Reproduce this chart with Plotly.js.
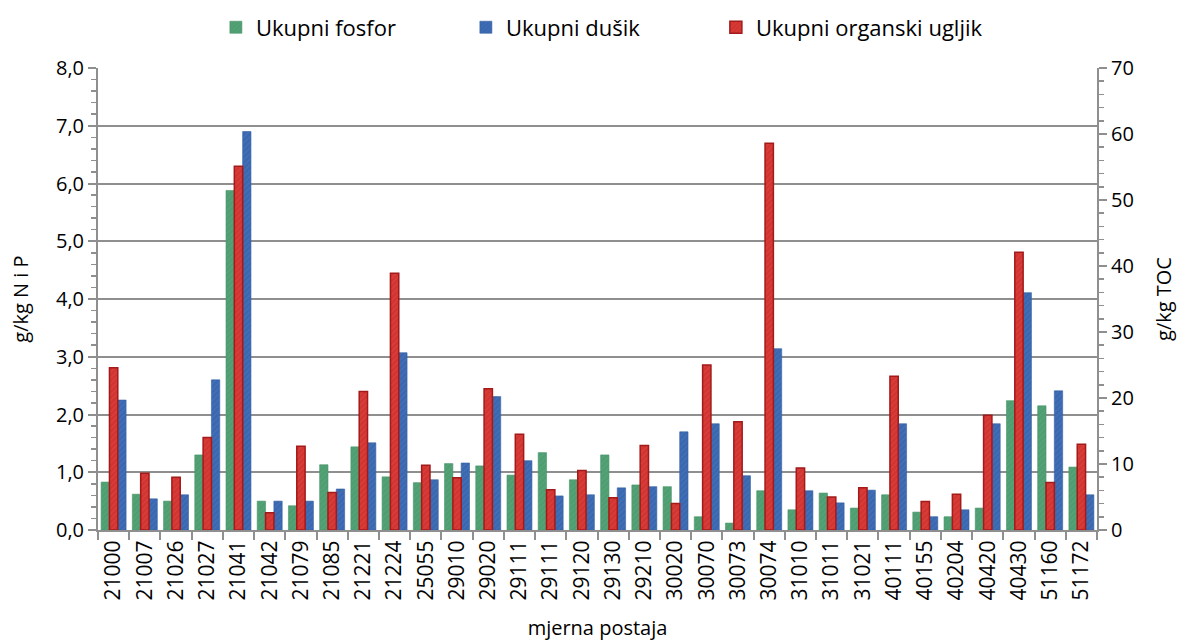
<!DOCTYPE html>
<html>
<head>
<meta charset="utf-8">
<script src="https://cdn.plot.ly/plotly-3.0.1.min.js"></script>
<style>
html,body{margin:0;padding:0;background:#fff;}
#chart{width:1187px;height:644px;}
</style>
</head>
<body>
<div id="chart"></div>
<script>
const categories = ["21000","21007","21026","21027","21041","21042","21079","21085","21221","21224","25055","29010","29020","29111","29111","29120","29130","29210","30020","30070","30073","30074","31010","31011","31021","40111","40155","40204","40420","40430","51160","51172"];
const fosfor = [0.83,0.62,0.50,1.30,5.88,0.50,0.42,1.13,1.44,0.92,0.82,1.15,1.11,0.95,1.34,0.87,1.30,0.78,0.75,0.23,0.12,0.68,0.35,0.64,0.38,0.61,0.31,0.23,0.38,2.24,2.15,1.09];
const dusik = [2.25,0.54,0.61,2.60,6.90,0.50,0.50,0.71,1.51,3.07,0.87,1.16,2.31,1.20,0.59,0.61,0.73,0.75,1.70,1.84,0.94,3.14,0.68,0.47,0.69,1.84,0.23,0.35,1.84,4.11,2.41,0.61];
const toc = [24.6,8.6,8.0,14.0,55.1,2.6,12.7,5.7,21.0,38.9,9.8,7.9,21.4,14.5,6.1,9.0,4.9,12.8,4.0,25.0,16.4,58.6,9.4,5.0,6.4,23.3,4.3,5.4,17.4,42.1,7.2,13.0];
const seriesNames = ["Ukupni fosfor","Ukupni dušik","Ukupni organski ugljik"];

const xIdx = categories.map((c,i)=>i);
const bw = 0.267;
const FONT = "Open Sans, Liberation Sans, sans-serif";
const gridC = "#8f8f8f";
const FS = 20;

const traces = [
  {type:'bar', name:seriesNames[0], x:xIdx, y:fosfor, width:bw, offset:-0.4, legendwidth:205,
   marker:{color:'#4e9e72', line:{color:'#479468', width:0.6},
     pattern:{shape:'/', bgcolor:'#4e9e72', fgcolor:'#6cb48b', fgopacity:0.35, size:4, solidity:0.25}}, yaxis:'y'},
  {type:'bar', name:seriesNames[1], x:xIdx, y:dusik, width:bw, offset:0.133, legendwidth:205,
   marker:{color:'#3a68b0', line:{color:'#335fa3', width:0.6},
     pattern:{shape:'/', bgcolor:'#3a68b0', fgcolor:'#5a86c8', fgopacity:0.35, size:4, solidity:0.25}}, yaxis:'y'},
  {type:'bar', name:seriesNames[2], x:xIdx, y:toc, width:bw, offset:-0.133, legendwidth:300,
   marker:{color:'#d23431', line:{color:'#a31a1a', width:1.5},
     pattern:{shape:'/', bgcolor:'#d23431', fgcolor:'#ea5d57', fgopacity:0.35, size:4, solidity:0.25}}, yaxis:'y2'}
];

const layout = {
  width:1187, height:644,
  margin:{l:98, r:90, t:68, b:114},
  paper_bgcolor:'#fff', plot_bgcolor:'#fff',
  font:{family:FONT, size:FS, color:'#000'},
  separators:',.',
  barmode:'overlay',
  showlegend:true,
  legend:{orientation:'h', x:0.118, xanchor:'left', y:0.99, yanchor:'top', yref:'container',
    font:{family:FONT, size:22}, traceorder:'normal', itemwidth:30},
  xaxis:{
    range:[-0.5, categories.length-0.5],
    tickmode:'array', tickvals:xIdx, ticktext:categories, tickangle:-90,
    ticks:'', showgrid:false, zeroline:false,
    showline:true, linecolor:gridC, linewidth:2,
    tickfont:{family:FONT, size:21},
    minor:{tickmode:'linear', tick0:-0.5, dtick:1, ticks:'outside', ticklen:8, tickcolor:gridC, tickwidth:2, showgrid:false},
    title:{text:'mjerna postaja', font:{family:FONT, size:FS}, standoff:22}
  },
  yaxis:{
    range:[0,8], dtick:1, tickformat:'.1f',
    showgrid:true, gridcolor:gridC, gridwidth:2,
    zeroline:false, showline:true, linecolor:gridC, linewidth:2,
    ticks:'outside', ticklen:8, tickcolor:gridC, tickwidth:2,
    minor:{dtick:0.2, ticks:'outside', ticklen:5, tickcolor:gridC, tickwidth:1.5, showgrid:false},
    tickfont:{family:FONT, size:FS},
    title:{text:'g/kg N i P', font:{family:FONT, size:FS}, standoff:22}
  },
  yaxis2:{
    range:[0,70], dtick:10, overlaying:'y', side:'right',
    showgrid:false, zeroline:false, showline:true, linecolor:gridC, linewidth:2,
    ticks:'outside', ticklen:8, tickcolor:gridC, tickwidth:2,
    minor:{dtick:2, ticks:'outside', ticklen:5, tickcolor:gridC, tickwidth:1.5, showgrid:false},
    tickfont:{family:FONT, size:FS},
    title:{text:'g/kg TOC', font:{family:FONT, size:FS}, standoff:24}
  }
};

Plotly.newPlot('chart', traces, layout, {displayModeBar:false, staticPlot:true});
</script>
</body>
</html>
